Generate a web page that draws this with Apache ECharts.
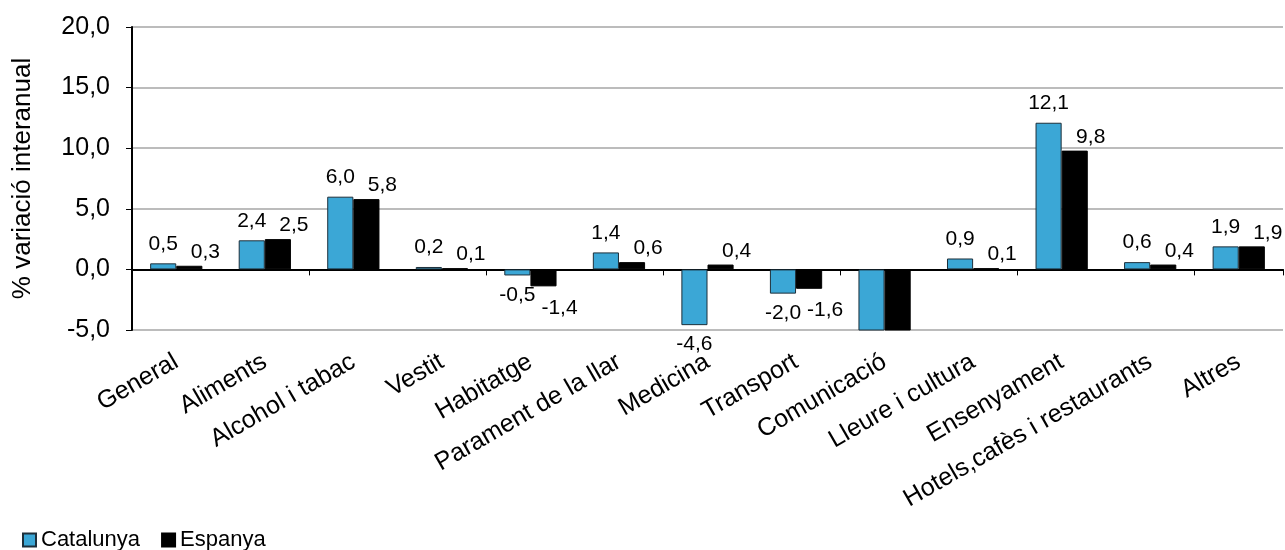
<!DOCTYPE html>
<html>
<head>
<meta charset="utf-8">
<script src="https://cdn.jsdelivr.net/npm/echarts@6/dist/echarts.min.js"></script>
<style>
html,body{margin:0;padding:0;background:#fff;}
#c{width:1285px;height:550px;}
</style>
</head>
<body>
<div id="c"></div>
<script>
const categories = ['General','Aliments','Alcohol i tabac','Vestit','Habitatge','Parament de la llar','Medicina','Transport','Comunicació','Lleure i cultura','Ensenyament','Hotels,cafès i restaurants','Altres'];
const catalunya = [0.5, 2.4, 6.0, 0.2, -0.5, 1.4, -4.6, -2.0, -6.6, 0.9, 12.1, 0.6, 1.9];
const espanya   = [0.3, 2.5, 5.8, 0.1, -1.4, 0.6, 0.4, -1.6, -6.3, 0.1, 9.8, 0.4, 1.9];
const yTicks = { min: -5, max: 20, interval: 5 };
const yName = '% variació interanual';
const seriesNames = ['Catalunya', 'Espanya'];

const FONT = '"Liberation Sans", Arial, sans-serif';
const fmt = v => v.toFixed(1).replace('.', ',');

function mkData(arr) {
  return arr.map(v => {
    const hidden = v < yTicks.min;
    return hidden ? { value: v, label: { show: false } } : v;
  });
}

const chart = echarts.init(document.getElementById('c'));
chart.setOption({
  animation: false,
  textStyle: { fontFamily: FONT },
  grid: { left: 132, right: 2, top: 27, bottom: 220, containLabel: false },
  legend: {
    left: 17, top: 524,
    itemWidth: 13, itemHeight: 13, itemGap: 21,
    icon: 'rect',
    textStyle: { fontFamily: FONT, fontSize: 22, color: '#000' },
    data: seriesNames
  },
  xAxis: [
    {
      type: 'category', data: categories, position: 'bottom',
      axisLine: { show: false, onZero: false },
      axisTick: { show: false },
      axisLabel: { rotate: 30, margin: 30, interval: 0, fontSize: 25, color: '#000', fontFamily: FONT },
      splitLine: { show: false }
    },
    {
      type: 'category', data: categories, position: 'top',
      axisLine: { show: true, onZero: true, lineStyle: { color: '#000', width: 2 } },
      axisTick: { show: true, inside: true, length: 6, lineStyle: { color: '#000', width: 1 } },
      axisLabel: { show: false },
      splitLine: { show: false }
    }
  ],
  yAxis: {
    type: 'value', min: yTicks.min, max: yTicks.max, interval: yTicks.interval,
    name: yName, nameLocation: 'middle', nameRotate: 90, nameGap: 96,
    nameTextStyle: { fontSize: 26, color: '#000', fontFamily: FONT },
    axisLine: { show: true, lineStyle: { color: '#000', width: 2 } },
    axisTick: { show: true, length: 6, lineStyle: { color: '#000', width: 1 } },
    axisLabel: { formatter: fmt, fontSize: 25, color: '#000', margin: 22, fontFamily: FONT },
    splitLine: { show: true, lineStyle: { color: '#a6a6a6', width: 1.5 } }
  },
  series: [
    {
      name: seriesNames[0], type: 'bar', xAxisIndex: 0,
      data: mkData(catalunya),
      barGap: '0%', barCategoryGap: '41%',
      itemStyle: { color: '#3ba7d6', borderColor: '#1d2f3a', borderWidth: 1 },
      label: { show: true, position: 'outside', distance: 9, formatter: p => fmt(p.value),
               fontSize: 21, color: '#000', fontFamily: FONT }
    },
    {
      name: seriesNames[1], type: 'bar', xAxisIndex: 0,
      data: mkData(espanya),
      barGap: '0%', barCategoryGap: '41%',
      itemStyle: { color: '#000', borderColor: '#000', borderWidth: 1 },
      label: { show: true, position: 'outside', distance: 7, offset: [16, 4], formatter: p => fmt(p.value),
               fontSize: 21, color: '#000', fontFamily: FONT }
    }
  ]
});
</script>
</body>
</html>
